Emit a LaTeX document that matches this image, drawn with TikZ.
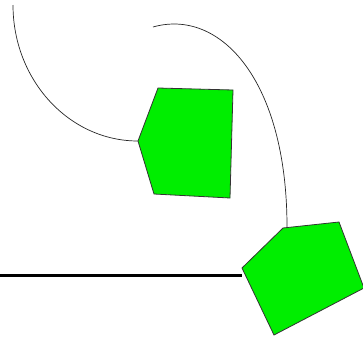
\documentclass[tikz,border=0pt]{standalone}
\usepackage{tikz}
\usetikzlibrary{positioning}
\definecolor{padgreen}{RGB}{0,238,0}

\begin{document}
\begin{tikzpicture}[
  x=1bp, y=-1bp,
  pad/.style={draw=black!80, fill=padgreen, line width=0.8bp, line join=miter},
  wire/.style={draw=black!85, line width=0.7bp},
  rail/.style={draw=black, line width=3bp}
]
  \useasboundingbox (0,0) rectangle (363,338);

  % Upper pad
  \coordinate (a1) at (138,141);
  \coordinate (a2) at (158,88);
  \coordinate (a3) at (233,90);
  \coordinate (a4) at (230,198);
  \coordinate (a5) at (154,194);
  \filldraw[pad] (a1) -- (a2) -- (a3) -- (a4) -- (a5) -- cycle;

  % Lower pad
  \coordinate (b1) at (242,268);
  \coordinate (b2) at (283,228);
  \coordinate (b3) at (339,222);
  \coordinate (b4) at (364,288);
  \coordinate (b5) at (274,335);
  \coordinate (b0) at (287,227);

  % Free ends
  \coordinate (top1) at (13,5);
  \coordinate (top2) at (153,27);
  \coordinate (left) at (0,275);

  % Wires
  \draw[wire] (top1) .. controls (13,80) and (69,141) .. (a1);
  \draw[wire] (top2) .. controls (220,8) and (287,80) .. (b0);
  \draw[rail] (left) -- (left -| b1);

  \filldraw[pad] (b1) -- (b2) -- (b3) -- (b4) -- (b5) -- cycle;
\end{tikzpicture}
\end{document}
